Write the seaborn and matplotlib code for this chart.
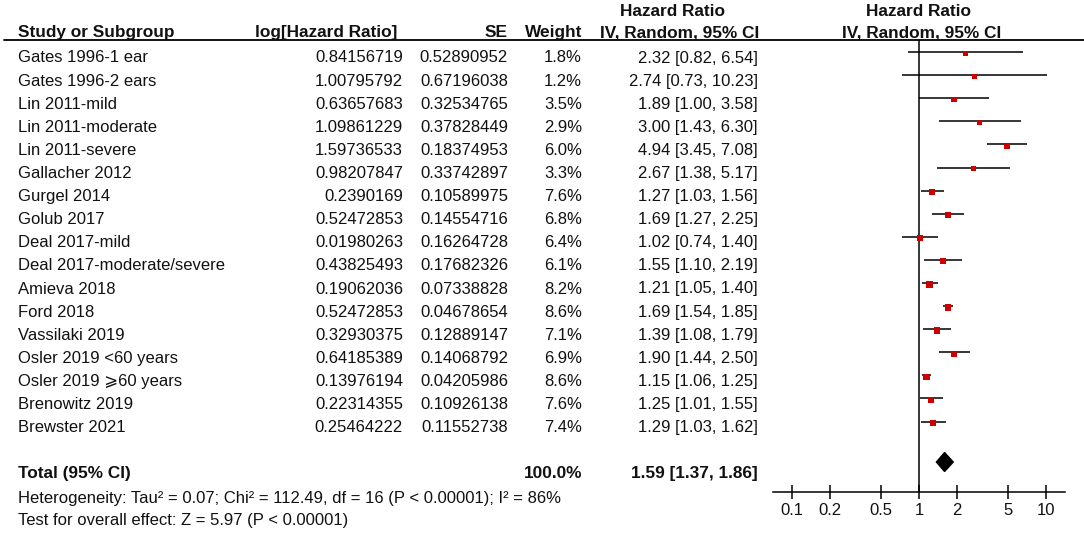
import matplotlib
matplotlib.use("Agg")
import matplotlib.pyplot as plt
import seaborn as sns
import pandas as pd
import numpy as np
from matplotlib.patches import Polygon

# ---------------- data ----------------
studies = ["Gates 1996-1 ear", "Gates 1996-2 ears", "Lin 2011-mild", "Lin 2011-moderate",
           "Lin 2011-severe", "Gallacher 2012", "Gurgel 2014", "Golub 2017", "Deal 2017-mild",
           "Deal 2017-moderate/severe", "Amieva 2018", "Ford 2018", "Vassilaki 2019",
           "Osler 2019 <60 years", "Osler 2019 \u2a7e60 years", "Brenowitz 2019", "Brewster 2021"]
log_hr = ["0.84156719", "1.00795792", "0.63657683", "1.09861229", "1.59736533", "0.98207847",
          "0.2390169", "0.52472853", "0.01980263", "0.43825493", "0.19062036", "0.52472853",
          "0.32930375", "0.64185389", "0.13976194", "0.22314355", "0.25464222"]
se = ["0.52890952", "0.67196038", "0.32534765", "0.37828449", "0.18374953", "0.33742897",
      "0.10589975", "0.14554716", "0.16264728", "0.17682326", "0.07338828", "0.04678654",
      "0.12889147", "0.14068792", "0.04205986", "0.10926138", "0.11552738"]
weight = [1.8, 1.2, 3.5, 2.9, 6.0, 3.3, 7.6, 6.8, 6.4, 6.1, 8.2, 8.6, 7.1, 6.9, 8.6, 7.6, 7.4]
hr = [2.32, 2.74, 1.89, 3.00, 4.94, 2.67, 1.27, 1.69, 1.02, 1.55, 1.21, 1.69, 1.39, 1.90, 1.15, 1.25, 1.29]
ci_low = [0.82, 0.73, 1.00, 1.43, 3.45, 1.38, 1.03, 1.27, 0.74, 1.10, 1.05, 1.54, 1.08, 1.44, 1.06, 1.01, 1.03]
ci_high = [6.54, 10.23, 3.58, 6.30, 7.08, 5.17, 1.56, 2.25, 1.40, 2.19, 1.40, 1.85, 1.79, 2.50, 1.25, 1.55, 1.62]

total_weight = "100.0%"
total_hr = 1.59
total_low = 1.37
total_high = 1.86
heterogeneity = "Heterogeneity: Tau\u00b2 = 0.07; Chi\u00b2 = 112.49, df = 16 (P < 0.00001); I\u00b2 = 86%"
overall = "Test for overall effect: Z = 5.97 (P < 0.00001)"
xticks = [0.1, 0.2, 0.5, 1, 2, 5, 10]
xtick_labels = ["0.1", "0.2", "0.5", "1", "2", "5", "10"]

df = pd.DataFrame({"study": studies, "hr": hr, "lo": ci_low, "hi": ci_high, "w": weight})
df["row"] = np.arange(len(df))

# ---------------- figure ----------------
sns.set_theme(style="white")
plt.rcParams["font.family"] = ["Liberation Sans", "DejaVu Sans"]
FS = 12
FSH = 12.4

W, H = 1084, 534
fig = plt.figure(figsize=(W / 100, H / 100), dpi=100)

# overlay axes in pixel coordinates for the table text
tax = fig.add_axes([0, 0, 1, 1])
tax.set_xlim(0, W)
tax.set_ylim(H, 0)
tax.axis("off")

ROW0, DY = 58.0, 23.1


def ty(r):
    return ROW0 + DY * r

# header
hdr = dict(fontsize=FSH, fontweight="bold", va="center", color="#111111")
tax.text(18, ty(-1.1), "Study or Subgroup", ha="left", **hdr)
tax.text(397, ty(-1.1), "log[Hazard Ratio]", ha="right", **hdr)
tax.text(508, ty(-1.1), "SE", ha="right", **hdr)
tax.text(582, ty(-1.1), "Weight", ha="right", **hdr)
tax.text(672, ty(-2.0), "Hazard Ratio", ha="center", **hdr)
tax.text(680, ty(-1.1), "IV, Random, 95% CI", ha="center", **hdr)
tax.text(919, ty(-2.0), "Hazard Ratio", ha="center", **hdr)
tax.text(922, ty(-1.1), "IV, Random, 95% CI", ha="center", **hdr)
tax.plot([4, W], [39.5, 39.5], color="black", lw=1.3)

body = dict(fontsize=FS, va="center", color="#111111")
for i in range(len(studies)):
    tax.text(18, ty(i), studies[i], ha="left", **body)
    tax.text(403, ty(i), log_hr[i], ha="right", **body)
    tax.text(508, ty(i), se[i], ha="right", **body)
    tax.text(582, ty(i), f"{weight[i]:.1f}%", ha="right", **body)
    tax.text(758, ty(i), f"{hr[i]:.2f} [{ci_low[i]:.2f}, {ci_high[i]:.2f}]", ha="right", **body)

bold = dict(fontsize=FSH, fontweight="bold", va="center", color="#111111")
tax.text(18, ty(18), "Total (95% CI)", ha="left", **bold)
tax.text(582, ty(18), total_weight, ha="right", **bold)
tax.text(758, ty(18), f"{total_hr:.2f} [{total_low:.2f}, {total_high:.2f}]", ha="right", **bold)
tax.text(18, ty(19.05), heterogeneity, ha="left", **body)
tax.text(18, ty(20), overall, ha="left", **body)

# forest axes
top_px, bot_px, left_px, right_px = 40, 492, 773, 1065
ax = fig.add_axes([left_px / W, 1 - bot_px / H, (right_px - left_px) / W, (bot_px - top_px) / H])
ax.set_xscale("log")
ax.set_xlim(1 / 14.1, 14.1)
ax.set_ylim((bot_px - 52) / DY, (top_px - 52) / DY)
ax.patch.set_alpha(0)

ax.hlines(df["row"], df["lo"], df["hi"], color="black", lw=1.1, zorder=2)
sns.scatterplot(data=df.assign(yy=df["row"] + 0.06), x="hr", y="yy", size="w",
                sizes=(11, 22), size_norm=(1.2, 8.6), marker="s", color="#CC0000",
                edgecolor="none", legend=False, ax=ax, zorder=3)
ax.axvline(1, color="black", lw=1.1, zorder=1)

dh = 0.41
yt = 17.75
diamond = Polygon([(total_low, yt), (total_hr, yt - dh), (total_high, yt), (total_hr, yt + dh)],
                  closed=True, color="black")
ax.add_patch(diamond)

for s in ["top", "right", "left"]:
    ax.spines[s].set_visible(False)
ax.spines["bottom"].set_color("black")
ax.spines["bottom"].set_linewidth(1.1)
ax.set_yticks([])
ax.set_xticks(xticks)
ax.set_xticklabels(xtick_labels, fontsize=FS)
ax.minorticks_off()
ax.tick_params(axis="x", which="major", bottom=True, direction="inout", length=10, width=1.1,
               color="black", pad=3, labelcolor="#111111")
ax.set_xlabel("")
ax.set_ylabel("")

fig.savefig("out.png", dpi=100)
